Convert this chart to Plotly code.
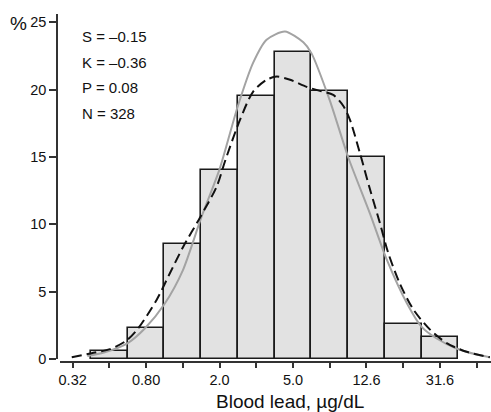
import plotly.graph_objects as go

# Histogram of log10(blood lead), bin width 0.2 in log10 units
bin_log_centers = [-0.3, -0.1, 0.1, 0.3, 0.5, 0.7, 0.9, 1.1, 1.3, 1.5]
bin_percent = [0.64, 2.34, 8.53, 14.04, 19.53, 22.77, 19.9, 15.03, 2.62, 1.68]

# Fitted normal curve (grey)
normal_log = [-0.42, -0.33, -0.2, -0.106, 0.0, 0.1, 0.2, 0.3, 0.4, 0.483, 0.556, 0.656,
              0.756, 0.8, 0.9, 1.0, 1.119, 1.21, 1.32, 1.40, 1.48, 1.59, 1.7, 1.77]
normal_pct = [0.25, 0.5, 1.2, 2.3, 4.1, 6.6, 10.5, 14.1, 18.8, 22.0, 23.7, 24.3,
              23.5, 22.7, 19.2, 15.0, 10.8, 7.4, 4.15, 2.4, 1.56, 0.8, 0.35, 0.15]

# Kernel density curve (dashed)
kernel_log = [-0.505, -0.397, -0.297, -0.206, -0.143, -0.043, 0.03, 0.102, 0.193, 0.284,
              0.33, 0.411, 0.483, 0.556, 0.611, 0.684, 0.774, 0.846, 0.919, 0.973, 1.01,
              1.064, 1.119, 1.173, 1.218, 1.282, 1.355, 1.446, 1.537, 1.645, 1.772]
kernel_pct = [0.15, 0.45, 0.75, 1.4, 2.3, 4.4, 6.4, 8.35, 10.5, 12.8,
              14.7, 17.75, 19.85, 20.72, 20.96, 20.72, 20.2, 19.9, 19.6, 18.8, 17.75,
              15.3, 12.6, 10.1, 7.9, 5.6, 3.7, 2.2, 1.2, 0.56, 0.15]

tick_log = [-0.5, -0.3, -0.1, 0.1, 0.3, 0.5, 0.7, 0.9, 1.1, 1.3, 1.5, 1.7]
tick_text = ["0.32", "", "0.80", "", "2.0", "", "5.0", "", "12.6", "", "31.6", ""]

y_ticks = [0, 5, 10, 15, 20, 25]

stats_lines = ["S = \u20130.15", "K = \u20130.36", "P = 0.08", "N = 328"]
stats_y = [23.93, 22.03, 20.15, 18.25]

FONT = "Liberation Sans, Arial, sans-serif"

fig = go.Figure()
fig.add_trace(go.Bar(
    x=bin_log_centers, y=bin_percent, width=0.2,
    marker=dict(color="#e2e2e2", line=dict(color="#1a1a1a", width=1.6)),
    showlegend=False,
))
fig.add_trace(go.Scatter(
    x=normal_log, y=normal_pct, mode="lines",
    line=dict(color="#a3a3a3", width=2, shape="spline", smoothing=0.7),
    showlegend=False,
))
fig.add_trace(go.Scatter(
    x=kernel_log, y=kernel_pct, mode="lines",
    line=dict(color="#111111", width=2, dash="10px,5px", shape="spline", smoothing=0.8),
    showlegend=False,
))

for txt, yv in zip(stats_lines, stats_y):
    fig.add_annotation(x=-0.46, y=yv, text=txt, showarrow=False,
                       xanchor="left", yanchor="middle",
                       font=dict(family=FONT, size=15, color="#111"))

# plot area: x 57..491 (434 px), y 14..362 (348 px)
fig.add_annotation(xref="paper", yref="paper", x=(18 - 57) / 434, y=1 - (23 - 14) / 348,
                   text="%", showarrow=False, xanchor="center", yanchor="middle",
                   font=dict(family=FONT, size=19, color="#111"))
fig.add_annotation(xref="paper", yref="paper", x=(290 - 57) / 434, y=-(401 - 362) / 348,
                   text="Blood lead, \u00b5g/dL", showarrow=False,
                   xanchor="center", yanchor="middle",
                   font=dict(family=FONT, size=19, color="#111"))

fig.update_layout(
    width=491, height=412,
    margin=dict(l=57, r=0, t=14, b=50, pad=0, autoexpand=False),
    paper_bgcolor="white", plot_bgcolor="white",
    bargap=0,
    font=dict(family=FONT, color="#111"),
    xaxis=dict(
        domain=[3 / 434, 1], range=[-0.569, 1.778], anchor="free", position=0,
        showgrid=False, zeroline=False, showline=True, linecolor="#333", linewidth=1.5,
        tickmode="array", tickvals=tick_log, ticktext=tick_text,
        ticks="outside", ticklen=5, tickwidth=1.5, tickcolor="#333",
        tickfont=dict(family=FONT, size=14.5, color="#111"),
    ),
    yaxis=dict(
        domain=[2.7 / 348, 1], range=[0, 25.6], anchor="free", position=0,
        showgrid=False, zeroline=False, showline=True, linecolor="#333", linewidth=1.5,
        tickmode="array", tickvals=y_ticks,
        ticks="outside", ticklen=7, tickwidth=1.5, tickcolor="#333",
        tickfont=dict(family=FONT, size=14.5, color="#111"),
    ),
)

fig.write_html("out.html", config={"displayModeBar": False},
               post_script="document.body.style.margin='0px';document.body.style.overflow='hidden';")
